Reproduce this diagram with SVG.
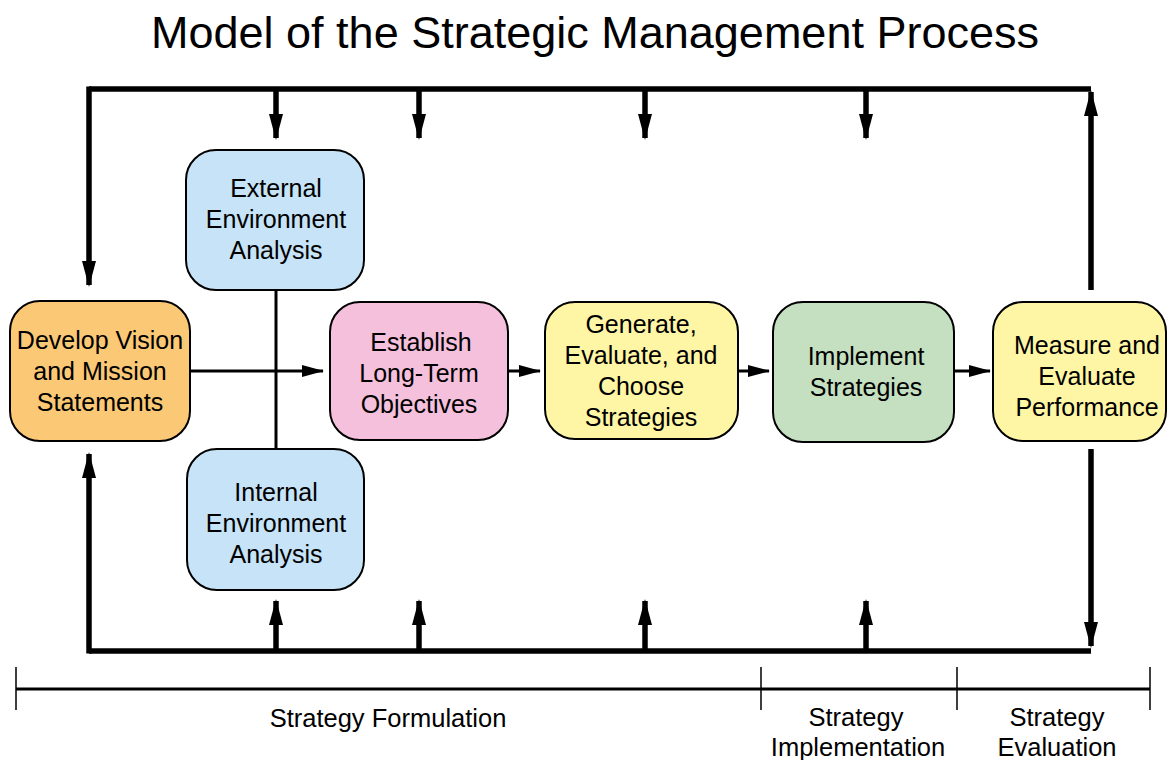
<svg xmlns="http://www.w3.org/2000/svg" width="1167" height="760" viewBox="0 0 1167 760">
<defs>
<style>
.box{stroke:#000;stroke-width:2}
.t{font-family:"Liberation Sans",Arial,sans-serif;font-size:25px;fill:#000;text-anchor:middle}
.title{font-family:"Liberation Sans",Arial,sans-serif;font-size:45px;fill:#000;text-anchor:middle}
.lbl{font-family:"Liberation Sans",Arial,sans-serif;font-size:25.5px;fill:#000;text-anchor:middle}
.thick{stroke:#000;stroke-width:5.5;fill:none}
.thin{stroke:#000;stroke-width:3;fill:none}
.scale{stroke:#000;stroke-width:3;fill:none}
.tick{stroke:#000;stroke-width:1.5;fill:none}
</style>
<marker id="big" markerUnits="userSpaceOnUse" markerWidth="26" markerHeight="14" viewBox="0 0 26 14" refX="24" refY="7" orient="auto">
<path d="M0,0 L26,7 L0,14 Z" fill="#000"/>
</marker>
<marker id="small" markerUnits="userSpaceOnUse" markerWidth="22" markerHeight="12" viewBox="0 0 22 12" refX="21" refY="6" orient="auto">
<path d="M0,0 L22,6 L0,12 Z" fill="#000"/>
</marker>
</defs>
<rect width="1167" height="760" fill="#fff"/>
<text class="title" x="595" y="48">Model of the Strategic Management Process</text>

<g id="connectors">
<path class="thick" d="M89,89 H1091"/>
<path class="thick" d="M89,86.5 V285" marker-end="url(#big)"/>
<path class="thick" d="M276,89 V138" marker-end="url(#big)"/>
<path class="thick" d="M419,89 V138" marker-end="url(#big)"/>
<path class="thick" d="M645,89 V138" marker-end="url(#big)"/>
<path class="thick" d="M866,89 V138" marker-end="url(#big)"/>
<path class="thick" d="M1091,290 V92" marker-end="url(#big)"/>
<path class="thick" d="M89,651 H1091"/>
<path class="thick" d="M89,653.5 V454" marker-end="url(#big)"/>
<path class="thick" d="M276,651 V601" marker-end="url(#big)"/>
<path class="thick" d="M419,651 V601" marker-end="url(#big)"/>
<path class="thick" d="M645,651 V601" marker-end="url(#big)"/>
<path class="thick" d="M866,651 V601" marker-end="url(#big)"/>
<path class="thick" d="M1091,449 V646" marker-end="url(#big)"/>
<path class="thin" d="M276,290 V449"/>
<path class="thin" d="M190,371 H323" marker-end="url(#small)"/>
<path class="thin" d="M508,371 H540" marker-end="url(#small)"/>
<path class="thin" d="M738,371 H769" marker-end="url(#small)"/>
<path class="thin" d="M954,371 H990" marker-end="url(#small)"/>
</g>

<g id="develop">
<rect class="box" x="10" y="301" width="180" height="140" rx="30" fill="#FBC875"/>
<text class="t" x="100" y="349">Develop Vision</text>
<text class="t" x="100" y="380">and Mission</text>
<text class="t" x="100" y="411">Statements</text>
</g>
<g id="external">
<rect class="box" x="186" y="150" width="178" height="140" rx="30" fill="#C6E3F7"/>
<text class="t" x="276" y="197">External</text>
<text class="t" x="276" y="228">Environment</text>
<text class="t" x="276" y="259">Analysis</text>
</g>
<g id="internal">
<rect class="box" x="187" y="449" width="177" height="141" rx="30" fill="#C6E3F7"/>
<text class="t" x="276" y="501">Internal</text>
<text class="t" x="276" y="532">Environment</text>
<text class="t" x="276" y="563">Analysis</text>
</g>
<g id="establish">
<rect class="box" x="330" y="302" width="178" height="138" rx="30" fill="#F5C0DC"/>
<text class="t" x="421" y="351">Establish</text>
<text class="t" x="419" y="382">Long-Term</text>
<text class="t" x="419" y="413">Objectives</text>
</g>
<g id="generate">
<rect class="box" x="545" y="302" width="193" height="137" rx="30" fill="#FFF6A5"/>
<text class="t" x="641" y="333">Generate,</text>
<text class="t" x="641" y="364">Evaluate, and</text>
<text class="t" x="641" y="395">Choose</text>
<text class="t" x="641" y="426">Strategies</text>
</g>
<g id="implement">
<rect class="box" x="773" y="302" width="181" height="140" rx="30" fill="#C5E0C1"/>
<text class="t" x="866" y="365">Implement</text>
<text class="t" x="866" y="396">Strategies</text>
</g>
<g id="measure">
<rect class="box" x="993" y="302" width="173" height="139" rx="30" fill="#FFF6A5"/>
<text class="t" x="1087" y="354">Measure and</text>
<text class="t" x="1087" y="385">Evaluate</text>
<text class="t" x="1087" y="416">Performance</text>
</g>

<g id="scale">
<path class="scale" d="M16,689 H1150"/>
<path class="tick" d="M16,667 V710 M761,667 V710 M957,667 V710 M1150,667 V710"/>
<text class="lbl" x="388" y="727">Strategy Formulation</text>
<text class="lbl" x="856" y="726">Strategy</text>
<text class="lbl" x="858" y="756">Implementation</text>
<text class="lbl" x="1057" y="726">Strategy</text>
<text class="lbl" x="1057" y="756">Evaluation</text>
</g>
</svg>
